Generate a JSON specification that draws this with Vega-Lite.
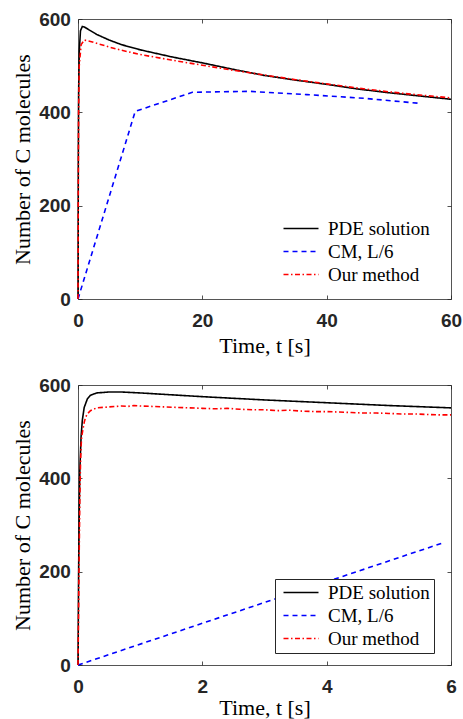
{
  "$schema": "https://vega.github.io/schema/vega-lite/v6.json",
  "padding": {"left": 10, "top": 9, "right": 0, "bottom": 0},
  "spacing": 86,
  "bounds": "flush",
  "background": "white",
  "datasets": {
    "top": [
      {"s": "PDE solution", "t": 0, "n": 0},
      {"s": "PDE solution", "t": 0.05, "n": 300},
      {"s": "PDE solution", "t": 0.1, "n": 440},
      {"s": "PDE solution", "t": 0.2, "n": 530},
      {"s": "PDE solution", "t": 0.4, "n": 575},
      {"s": "PDE solution", "t": 0.7, "n": 584},
      {"s": "PDE solution", "t": 1, "n": 583},
      {"s": "PDE solution", "t": 2, "n": 575},
      {"s": "PDE solution", "t": 3, "n": 567},
      {"s": "PDE solution", "t": 5, "n": 555},
      {"s": "PDE solution", "t": 7, "n": 545},
      {"s": "PDE solution", "t": 10, "n": 534},
      {"s": "PDE solution", "t": 15, "n": 519},
      {"s": "PDE solution", "t": 20, "n": 506},
      {"s": "PDE solution", "t": 25, "n": 492},
      {"s": "PDE solution", "t": 30, "n": 479},
      {"s": "PDE solution", "t": 35, "n": 469},
      {"s": "PDE solution", "t": 40, "n": 460},
      {"s": "PDE solution", "t": 45, "n": 450},
      {"s": "PDE solution", "t": 50, "n": 442},
      {"s": "PDE solution", "t": 55, "n": 435},
      {"s": "PDE solution", "t": 60, "n": 428},
      {"s": "CM, L/6", "t": 0, "n": 0},
      {"s": "CM, L/6", "t": 9.2, "n": 402},
      {"s": "CM, L/6", "t": 18.4, "n": 443},
      {"s": "CM, L/6", "t": 27.6, "n": 445},
      {"s": "CM, L/6", "t": 36.8, "n": 438},
      {"s": "CM, L/6", "t": 46, "n": 430},
      {"s": "CM, L/6", "t": 55.2, "n": 419},
      {"s": "Our method", "t": 0, "n": 0},
      {"s": "Our method", "t": 0.05, "n": 250},
      {"s": "Our method", "t": 0.1, "n": 400},
      {"s": "Our method", "t": 0.2, "n": 500},
      {"s": "Our method", "t": 0.5, "n": 545},
      {"s": "Our method", "t": 1, "n": 555},
      {"s": "Our method", "t": 2, "n": 552},
      {"s": "Our method", "t": 3, "n": 548},
      {"s": "Our method", "t": 5, "n": 540},
      {"s": "Our method", "t": 7, "n": 533},
      {"s": "Our method", "t": 10, "n": 524},
      {"s": "Our method", "t": 15, "n": 512},
      {"s": "Our method", "t": 20, "n": 501},
      {"s": "Our method", "t": 25, "n": 490},
      {"s": "Our method", "t": 30, "n": 480},
      {"s": "Our method", "t": 35, "n": 470},
      {"s": "Our method", "t": 40, "n": 461},
      {"s": "Our method", "t": 45, "n": 452},
      {"s": "Our method", "t": 50, "n": 444},
      {"s": "Our method", "t": 55, "n": 437},
      {"s": "Our method", "t": 60, "n": 431}
    ],
    "bottom": [
      {"s": "PDE solution", "t": 0, "n": 0},
      {"s": "PDE solution", "t": 0.005, "n": 100},
      {"s": "PDE solution", "t": 0.01, "n": 200},
      {"s": "PDE solution", "t": 0.02, "n": 330},
      {"s": "PDE solution", "t": 0.03, "n": 420},
      {"s": "PDE solution", "t": 0.05, "n": 490},
      {"s": "PDE solution", "t": 0.07, "n": 525},
      {"s": "PDE solution", "t": 0.1, "n": 552},
      {"s": "PDE solution", "t": 0.15, "n": 570},
      {"s": "PDE solution", "t": 0.2, "n": 578},
      {"s": "PDE solution", "t": 0.3, "n": 583},
      {"s": "PDE solution", "t": 0.5, "n": 585},
      {"s": "PDE solution", "t": 0.7, "n": 585},
      {"s": "PDE solution", "t": 1, "n": 583},
      {"s": "PDE solution", "t": 1.5, "n": 579},
      {"s": "PDE solution", "t": 2, "n": 575},
      {"s": "PDE solution", "t": 3, "n": 568},
      {"s": "PDE solution", "t": 4, "n": 562},
      {"s": "PDE solution", "t": 5, "n": 556},
      {"s": "PDE solution", "t": 6, "n": 551},
      {"s": "CM, L/6", "t": 0, "n": 0},
      {"s": "CM, L/6", "t": 3, "n": 134},
      {"s": "CM, L/6", "t": 5.9, "n": 263},
      {"s": "Our method", "t": 0, "n": 0},
      {"s": "Our method", "t": 0.01, "n": 120},
      {"s": "Our method", "t": 0.02, "n": 250},
      {"s": "Our method", "t": 0.03, "n": 360},
      {"s": "Our method", "t": 0.04, "n": 430},
      {"s": "Our method", "t": 0.05, "n": 470},
      {"s": "Our method", "t": 0.06, "n": 490},
      {"s": "Our method", "t": 0.08, "n": 505},
      {"s": "Our method", "t": 0.1, "n": 520},
      {"s": "Our method", "t": 0.12, "n": 530},
      {"s": "Our method", "t": 0.15, "n": 538},
      {"s": "Our method", "t": 0.2, "n": 545},
      {"s": "Our method", "t": 0.25, "n": 548},
      {"s": "Our method", "t": 0.3, "n": 551},
      {"s": "Our method", "t": 0.4, "n": 552},
      {"s": "Our method", "t": 0.5, "n": 553},
      {"s": "Our method", "t": 0.6, "n": 554},
      {"s": "Our method", "t": 0.7, "n": 555},
      {"s": "Our method", "t": 0.8, "n": 554},
      {"s": "Our method", "t": 0.9, "n": 556},
      {"s": "Our method", "t": 1.0, "n": 555},
      {"s": "Our method", "t": 1.2, "n": 554},
      {"s": "Our method", "t": 1.4, "n": 553},
      {"s": "Our method", "t": 1.6, "n": 552},
      {"s": "Our method", "t": 1.8, "n": 551},
      {"s": "Our method", "t": 2.0, "n": 550},
      {"s": "Our method", "t": 2.2, "n": 549},
      {"s": "Our method", "t": 2.4, "n": 550},
      {"s": "Our method", "t": 2.6, "n": 548},
      {"s": "Our method", "t": 2.8, "n": 547},
      {"s": "Our method", "t": 3.0, "n": 547},
      {"s": "Our method", "t": 3.2, "n": 545},
      {"s": "Our method", "t": 3.4, "n": 546},
      {"s": "Our method", "t": 3.6, "n": 544},
      {"s": "Our method", "t": 3.8, "n": 543},
      {"s": "Our method", "t": 4.0, "n": 543},
      {"s": "Our method", "t": 4.2, "n": 542},
      {"s": "Our method", "t": 4.4, "n": 541},
      {"s": "Our method", "t": 4.6, "n": 540},
      {"s": "Our method", "t": 4.8, "n": 540},
      {"s": "Our method", "t": 5.0, "n": 539},
      {"s": "Our method", "t": 5.2, "n": 538},
      {"s": "Our method", "t": 5.4, "n": 538},
      {"s": "Our method", "t": 5.6, "n": 537},
      {"s": "Our method", "t": 5.8, "n": 536},
      {"s": "Our method", "t": 6.0, "n": 536}
    ]
  },
  "resolve": {"scale": {"color": "independent", "strokeDash": "independent", "x": "independent", "y": "independent"}},
  "vconcat": [
    {
      "width": 373,
      "height": 280,
      "data": {"name": "top"},
      "layer": [
        {
          "mark": {"type": "line", "strokeWidth": 1.6},
          "encoding": {
            "x": {"field": "t", "type": "quantitative", "scale": {"domain": [0, 60], "nice": false},
              "axis": {"orient": "bottom", "values": [0, 20, 40, 60], "title": "Time, t [s]", "titleY": 53, "titleBaseline": "alphabetic", "labelPadding": 16.5, "labelFlush": false}},
            "y": {"field": "n", "type": "quantitative", "scale": {"domain": [0, 600], "nice": false},
              "axis": {"orient": "left", "values": [0, 200, 400, 600], "title": "Number of C molecules", "titleX": -49, "titleY": 140, "titleBaseline": "alphabetic", "titleAngle": 270, "titleAlign": "center", "labelPadding": 11.6}},
            "color": {"field": "s", "type": "nominal",
              "scale": {"domain": ["PDE solution", "CM, L/6", "Our method"], "range": ["#000000", "#0000ff", "#ff0000"]},
              "legend": {"title": null, "orient": "none", "legendX": 197, "legendY": 196}},
            "strokeDash": {"field": "s", "type": "nominal",
              "scale": {"domain": ["PDE solution", "CM, L/6", "Our method"], "range": [[1, 0], [5, 4], [5, 2.5, 1.5, 2.5]]},
              "legend": {"title": null, "orient": "none", "legendX": 197, "legendY": 196}}
          }
        },
        {
          "mark": {"type": "point", "opacity": 0},
          "encoding": {
            "x": {"field": "t", "type": "quantitative", "axis": {"orient": "top", "values": [0, 20, 40, 60], "labels": false, "title": null}},
            "y": {"field": "n", "type": "quantitative", "axis": {"orient": "right", "values": [0, 200, 400, 600], "labels": false, "title": null}}
          }
        }
      ],
      "resolve": {"axis": {"x": "independent", "y": "independent"}}
    },
    {
      "width": 373,
      "height": 280,
      "data": {"name": "bottom"},
      "layer": [
        {
          "mark": {"type": "line", "strokeWidth": 1.6},
          "encoding": {
            "x": {"field": "t", "type": "quantitative", "scale": {"domain": [0, 6], "nice": false},
              "axis": {"orient": "bottom", "values": [0, 2, 4, 6], "title": "Time, t [s]", "titleY": 49, "titleBaseline": "alphabetic", "labelPadding": 16.5, "labelFlush": false}},
            "y": {"field": "n", "type": "quantitative", "scale": {"domain": [0, 600], "nice": false},
              "axis": {"orient": "left", "values": [0, 200, 400, 600], "title": "Number of C molecules", "titleX": -49, "titleY": 140, "titleBaseline": "alphabetic", "titleAngle": 270, "titleAlign": "center", "labelPadding": 11.6}},
            "color": {"field": "s", "type": "nominal",
              "scale": {"domain": ["PDE solution", "CM, L/6", "Our method"], "range": ["#000000", "#0000ff", "#ff0000"]},
              "legend": {"title": null, "orient": "none", "legendX": 197, "legendY": 194, "strokeColor": "#262626", "fillColor": "white"}},
            "strokeDash": {"field": "s", "type": "nominal",
              "scale": {"domain": ["PDE solution", "CM, L/6", "Our method"], "range": [[1, 0], [5, 4], [5, 2.5, 1.5, 2.5]]},
              "legend": {"title": null, "orient": "none", "legendX": 197, "legendY": 194, "strokeColor": "#262626", "fillColor": "white"}}
          }
        },
        {
          "mark": {"type": "point", "opacity": 0},
          "encoding": {
            "x": {"field": "t", "type": "quantitative", "axis": {"orient": "top", "values": [0, 2, 4, 6], "labels": false, "title": null}},
            "y": {"field": "n", "type": "quantitative", "axis": {"orient": "right", "values": [0, 200, 400, 600], "labels": false, "title": null}}
          }
        }
      ],
      "resolve": {"axis": {"x": "independent", "y": "independent"}}
    }
  ],
  "config": {
    "view": {"stroke": "#555555", "strokeWidth": 1},
    "axis": {
      "domain": false, "grid": false, "ticks": true, "tickSize": -4, "tickColor": "#262626", "tickWidth": 0.8,
      "labelFont": "Liberation Sans", "labelFontSize": 19, "labelFontWeight": "bold", "labelColor": "#262626",
      "labelOverlap": false, "labelBound": false,
      "titleFont": "Liberation Serif", "titleFontSize": 22, "titleFontWeight": "normal", "titleColor": "#000000"
    },
    "legend": {
      "symbolType": "M-1,0H6", "symbolSize": 100, "symbolStrokeWidth": 1.6,
      "labelFont": "Liberation Serif", "labelFontSize": 19, "labelColor": "#000000",
      "labelOffset": 30, "rowPadding": 3, "padding": 4
    }
  }
}
